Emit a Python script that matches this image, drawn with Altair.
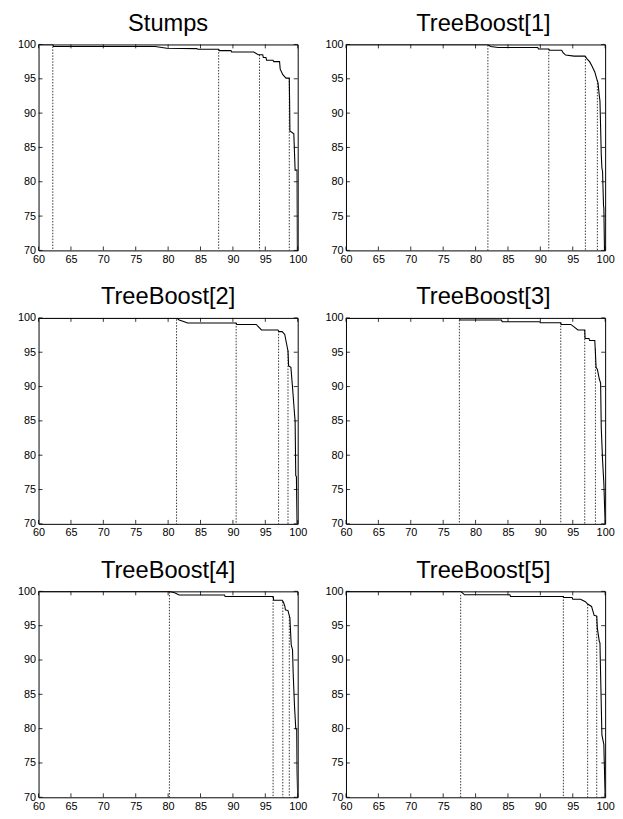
import altair as alt
import pandas as pd

titles = ["Stumps", "TreeBoost[1]", "TreeBoost[2]", "TreeBoost[3]", "TreeBoost[4]", "TreeBoost[5]"]

x_ticks = [60, 65, 70, 75, 80, 85, 90, 95, 100]
y_ticks = [70, 75, 80, 85, 90, 95, 100]

stumps_x = [60, 62.2, 62.3, 78, 79.8, 84.4, 84.6, 87.8, 87.9, 89.7, 89.8, 93.2, 93.9, 94.6, 94.7, 95.1, 95.2, 96.2, 96.3, 97.2, 97.3, 97.7, 98.2, 98.7, 98.75, 98.8, 99.4, 99.6, 99.9, 99.95]
stumps_y = [100, 100, 99.7, 99.7, 99.45, 99.4, 99.3, 99.3, 99.1, 99.1, 98.9, 98.9, 98.5, 98.5, 98.1, 98.1, 97.7, 97.7, 97.5, 97.5, 96.4, 95.6, 95.1, 95.1, 91.6, 87.4, 87.0, 81.7, 81.7, 70]
stumps_dot_x = [62.2, 87.8, 94.1, 98.7]
stumps_dot_top = [99.7, 99.3, 98.5, 95.1]

tb1_x = [60, 81.9, 82.3, 83.5, 89.6, 89.7, 91.3, 91.4, 93.3, 93.5, 93.9, 95.2, 96.9, 97.2, 97.6, 98.0, 98.4, 98.7, 98.9, 99.1, 99.2, 99.4, 99.5, 99.6, 99.75, 99.8, 99.9]
tb1_y = [100, 100, 99.7, 99.55, 99.55, 99.35, 99.35, 99.15, 99.15, 98.8, 98.45, 98.3, 98.3, 97.9, 97.5, 96.8, 96.0, 95.0, 94.4, 92.5, 91.8, 84.0, 82.0, 81.5, 76.5, 76.2, 70]
tb1_dot_x = [81.9, 91.3, 96.95, 98.8]
tb1_dot_top = [99.9, 99.35, 98.3, 94.8]

tb2_x = [60, 81.3, 81.7, 82.5, 83.0, 90.5, 90.6, 93.6, 94.4, 96.95, 97.1, 97.6, 98.0, 98.2, 98.5, 98.6, 98.95, 99.2, 99.5, 99.6, 99.7, 99.8, 99.9]
tb2_y = [100, 100, 99.7, 99.45, 99.25, 99.25, 99.05, 99.05, 98.25, 98.25, 98.0, 98.0, 97.6, 96.6, 95.2, 93.0, 92.8, 89.9, 86.1, 85.0, 77.0, 76.9, 70]
tb2_dot_x = [81.3, 90.5, 97.05, 98.5]
tb2_dot_top = [99.8, 99.25, 98.1, 95.2]

tb3_x = [60, 77.5, 77.6, 84.0, 84.1, 89.9, 90.0, 93.15, 93.2, 94.7, 95.2, 95.8, 96.85, 96.9, 97.5, 97.6, 98.4, 98.5, 98.6, 98.8, 99.1, 99.3, 99.4, 99.6, 99.8, 100]
tb3_y = [100, 100, 99.7, 99.7, 99.45, 99.45, 99.3, 99.3, 99.05, 99.05, 98.7, 98.25, 98.25, 97.0, 97.0, 96.7, 96.7, 94.9, 92.8, 92.5, 91.1, 90.5, 84.0, 79.3, 75.9, 70]
tb3_dot_x = [77.5, 93.15, 96.85, 98.5]
tb3_dot_top = [99.7, 99.3, 98.25, 95.5]

tb4_x = [60, 80.2, 81.0, 81.7, 88.7, 88.8, 96.2, 96.3, 97.6, 97.8, 98.0, 98.1, 98.5, 98.8, 98.85, 99.0, 99.2, 99.3, 99.5, 99.7, 99.85, 99.9, 100]
tb4_y = [100, 100, 99.8, 99.48, 99.48, 99.24, 99.24, 98.7, 98.7, 98.4, 97.9, 97.3, 97.2, 96.1, 95.0, 92.2, 91.5, 88.1, 83.4, 80.0, 79.8, 73.8, 70]
tb4_dot_x = [80.2, 96.2, 97.7, 98.7]
tb4_dot_top = [99.9, 99.24, 98.5, 96.3]

tb5_x = [60, 77.7, 78.3, 85.3, 85.4, 93.55, 93.6, 94.9, 95.0, 96.2, 96.95, 97.3, 97.9, 98.3, 98.7, 98.8, 99.1, 99.2, 99.3, 99.5, 99.8, 100]
tb5_y = [100, 100, 99.5, 99.5, 99.25, 99.25, 99.1, 99.1, 98.86, 98.86, 98.5, 98.15, 97.8, 96.5, 96.4, 94.6, 92.7, 92.5, 87.9, 79.1, 77.7, 70]
tb5_dot_x = [77.7, 93.55, 97.3, 98.7]
tb5_dot_top = [99.5, 99.25, 98.15, 96.4]

curves = [(stumps_x, stumps_y), (tb1_x, tb1_y), (tb2_x, tb2_y), (tb3_x, tb3_y), (tb4_x, tb4_y), (tb5_x, tb5_y)]
dots = [(stumps_dot_x, stumps_dot_top), (tb1_dot_x, tb1_dot_top), (tb2_dot_x, tb2_dot_top),
        (tb3_dot_x, tb3_dot_top), (tb4_dot_x, tb4_dot_top), (tb5_dot_x, tb5_dot_top)]

W, H = 263, 209
TL = 4

xscale = alt.Scale(domain=[60, 100], nice=False, zero=False)
yscale = alt.Scale(domain=[70, 100], nice=False, zero=False)
xaxis = alt.Axis(values=x_ticks, title=None, labelFlush=False, labelOverlap=False)
yaxis = alt.Axis(values=y_ticks, title=None, labelOverlap=False)

xt_df = pd.DataFrame({"xt": x_ticks})
yt_df = pd.DataFrame({"yt": y_ticks})


def panel(i):
    cx, cy = curves[i]
    dx, dt = dots[i]
    cdf = pd.DataFrame({"x": cx, "y": cy, "i": list(range(len(cx)))})
    ddf = pd.DataFrame({"x": dx, "top": dt})
    X = lambda f: alt.X(f, scale=xscale, axis=xaxis)
    Y = lambda f: alt.Y(f, scale=yscale, axis=yaxis)
    curve = alt.Chart(cdf).mark_line(color="black", strokeWidth=1.1, clip=True).encode(
        x=X("x:Q"), y=Y("y:Q"), order="i:Q")
    dotted = alt.Chart(ddf).mark_rule(color="black", strokeWidth=0.8, strokeDash=[1.5, 1.5]).encode(
        x=X("x:Q"), y=Y("top:Q"), y2=alt.value(H))
    tb = alt.Chart(xt_df).mark_rule(color="black", strokeWidth=0.8).encode(
        x=X("xt:Q"), y=alt.value(H), y2=alt.value(H - TL))
    tt = alt.Chart(xt_df).mark_rule(color="black", strokeWidth=0.8).encode(
        x=X("xt:Q"), y=alt.value(0), y2=alt.value(TL))
    tl = alt.Chart(yt_df).mark_rule(color="black", strokeWidth=0.8).encode(
        y=Y("yt:Q"), x=alt.value(0), x2=alt.value(TL))
    tr = alt.Chart(yt_df).mark_rule(color="black", strokeWidth=0.8).encode(
        y=Y("yt:Q"), x=alt.value(W), x2=alt.value(W - TL))
    title = alt.TitleParams(titles[i], dx=(8 if i % 2 == 1 else 0))
    return alt.layer(dotted, curve, tb, tt, tl, tr).properties(width=W, height=H, title=title)


rows = [alt.hconcat(panel(2 * r), panel(2 * r + 1), spacing=17) for r in range(3)]
chart = alt.vconcat(*rows, spacing=19.5).properties(
    padding={"left": 9, "top": -3, "right": 0, "bottom": 0}
).configure_view(
    stroke="black", strokeWidth=1
).configure_axis(
    domain=False, ticks=False, tickSize=0, grid=False, labelFont="Liberation Sans", labelFontSize=11,
    labelColor="black", labelPadding=3
).configure_title(
    font="Liberation Sans", fontSize=24, fontWeight="normal", color="black",
    anchor="middle", frame="group", offset=3, baseline="top"
)

chart.save("out.html", embed_options={"renderer": "svg", "actions": False})
